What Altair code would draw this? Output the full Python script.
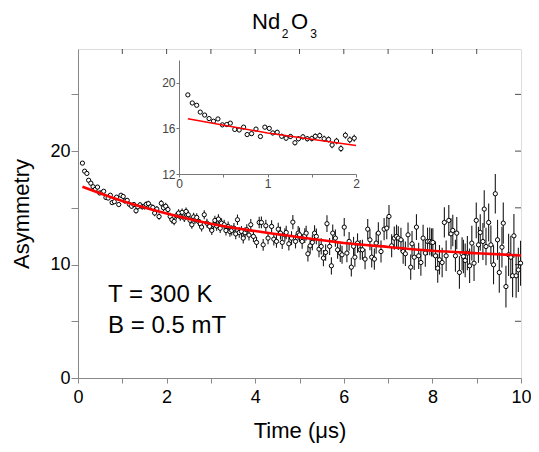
import altair as alt
import pandas as pd

# ---- data ----
T_A = [0.10,0.15,0.20,0.24,0.29,0.34,0.39,0.44,0.49,0.54,0.58,0.63,0.68,0.73,0.77,0.82,0.87,0.92,0.97,1.02,
       1.06,1.11,1.16,1.21,1.26,1.31,1.35,1.40,1.45,1.50,1.54,1.59,1.64,1.69,1.73,1.78,1.83,1.88,1.93,1.98]
A_A = [18.94,18.23,18.03,17.43,17.17,16.86,16.63,16.83,16.31,16.34,16.46,15.91,15.86,16.11,15.46,15.54,15.94,15.29,16.11,16.00,
       15.60,15.66,15.31,15.14,15.29,14.74,15.09,15.26,15.09,15.11,15.31,15.37,15.09,15.03,14.54,14.89,14.23,15.40,15.00,15.14]
E_A = [0.12,0.12,0.13,0.13,0.13,0.14,0.14,0.14,0.15,0.15,0.15,0.16,0.16,0.17,0.17,0.18,0.18,0.19,0.19,0.20,
       0.20,0.21,0.21,0.22,0.22,0.23,0.23,0.24,0.24,0.25,0.25,0.26,0.27,0.27,0.28,0.28,0.29,0.30,0.30,0.31]

T_B = [2.03,2.08,2.12,2.17,2.22,2.27,2.31,2.35,2.40,2.44,2.49,2.53,2.57,2.61,2.64,2.68,2.72,2.76,2.79,2.85,
       2.91,2.97,3.02,3.06,3.09,3.13,3.17,3.21,3.24,3.30,3.34,3.39,3.43,3.47,3.52,3.56,3.60,3.64,3.69,3.73,
       3.77,3.81,3.86,3.90,3.96]
A_B = [14.85,14.24,13.95,13.80,14.30,14.54,14.20,14.60,14.10,14.68,14.39,13.90,13.51,14.20,13.95,14.15,13.80,13.60,13.30,14.39,
       13.65,13.36,13.01,13.50,13.89,13.40,14.01,13.20,13.65,13.51,13.00,13.36,12.90,13.01,13.21,12.70,13.95,12.83,12.92,12.33,
       12.80,13.07,12.60,13.51,12.48]
E_B = [0.32,0.32,0.33,0.33,0.33,0.34,0.34,0.34,0.35,0.35,0.35,0.36,0.36,0.36,0.37,0.37,0.37,0.38,0.38,0.39,
       0.39,0.40,0.40,0.40,0.41,0.41,0.42,0.42,0.43,0.43,0.44,0.44,0.45,0.45,0.45,0.46,0.46,0.47,0.47,0.48,
       0.48,0.49,0.49,0.50,0.50]

T_C = [4.03,4.09,4.14,4.18,4.24,4.29,4.37,4.42,4.48,4.52,4.57,4.61,4.67,4.70,4.76,4.82,4.85,4.91,4.97,5.00,
       5.06,5.12,5.15,5.19,5.24,5.29,5.34,5.38,5.44,5.49,5.54,5.59,5.62,5.68,5.72,5.75,5.81,5.86,5.92,5.96]
A_C = [11.95,13.71,13.71,11.74,13.42,12.33,13.36,12.24,12.04,13.12,12.77,11.95,12.62,12.83,11.83,12.33,13.74,12.04,12.77,12.62,
       12.04,12.54,12.77,10.95,11.65,11.95,12.77,12.48,11.36,11.60,10.57,11.07,13.60,11.60,9.89,12.77,12.33,11.30,11.01,10.86]
E_C = [0.50,0.51,0.52,0.52,0.53,0.54,0.55,0.55,0.56,0.57,0.57,0.58,0.59,0.60,0.60,0.61,0.62,0.62,0.63,0.64,
       0.65,0.65,0.66,0.67,0.68,0.68,0.69,0.70,0.71,0.72,0.72,0.73,0.74,0.75,0.76,0.76,0.77,0.78,0.79,0.80]

T_D = [6.01,6.07,6.12,6.17,6.22,6.25,6.31,6.37,6.42,6.48,6.54,6.59,6.63,6.69,6.73,6.78,6.84,6.91,6.97,7.02,
       7.08,7.14,7.19,7.23,7.29,7.34,7.39,7.45,7.51,7.54,7.59,7.64,7.69,7.74,7.79,7.84,7.89,7.94,7.98]
A_D = [13.30,11.01,12.04,9.77,11.60,10.65,11.89,11.30,11.30,10.48,13.12,12.18,10.65,10.48,11.89,12.77,11.15,13.12,13.21,14.24,
       11.65,12.33,12.48,12.33,12.18,11.15,10.95,12.62,9.77,11.83,10.65,13.30,10.77,10.18,12.33,11.01,12.04,12.04,11.95]
E_D = [0.80,0.81,0.82,0.83,0.84,0.85,0.86,0.87,0.88,0.89,0.90,0.91,0.92,0.93,0.94,0.95,0.96,0.98,0.99,1.00,
       1.01,1.02,1.03,1.04,1.06,1.07,1.08,1.09,1.11,1.12,1.13,1.14,1.16,1.17,1.18,1.20,1.21,1.22,1.24]

T_E = [8.01,8.07,8.12,8.16,8.22,8.27,8.31,8.37,8.42,8.46,8.52,8.55,8.61,8.67,8.70,8.74,8.79,8.84,8.89,8.94,
       8.99,9.04,9.08,9.14,9.17,9.21,9.27,9.32,9.38,9.42,9.47,9.51,9.57,9.60,9.66,9.72,9.77,9.81,9.84,9.89,
       9.94,9.99]
A_E = [11.95,10.77,9.68,10.42,10.18,13.71,10.77,13.89,12.71,13.01,10.77,12.77,9.30,10.95,10.71,10.36,11.01,9.89,11.89,10.12,
       13.89,11.74,12.83,12.03,14.89,11.59,13.71,11.74,9.98,16.24,12.18,9.30,11.53,13.65,8.06,10.86,10.65,9.01,12.53,9.01,
       9.53,10.12]
E_E = [1.25,1.27,1.28,1.30,1.31,1.33,1.34,1.36,1.38,1.39,1.41,1.42,1.44,1.46,1.47,1.49,1.51,1.52,1.54,1.56,
       1.58,1.59,1.61,1.63,1.65,1.66,1.68,1.70,1.72,1.74,1.76,1.78,1.80,1.82,1.84,1.86,1.88,1.90,1.92,1.94,
       1.96,1.98]

FIT_T = [0.1, 1, 2, 3, 4, 5, 6, 7, 8, 9, 10]
FIT_A = [16.85, 15.6, 14.5, 13.6, 12.95, 12.4, 11.9, 11.55, 11.22, 11.0, 10.8]

X_TICKS = [0, 1, 2, 3, 4, 5, 6, 7, 8, 9, 10]
Y_TICKS = [0, 5, 10, 15, 20, 25]
TOP_TICKS = [1, 2, 3, 4, 5, 6, 7, 8, 9]
RIGHT_TICKS = [5, 10, 15, 20, 25]
INSET_X_TICKS = [0, 0.5, 1, 1.5, 2]
INSET_Y_TICKS = [12, 16, 20]

LABELS = ["T = 300 K", "B = 0.5 mT"]
LABEL_T = [0.68, 0.68]
LABEL_A = [6.7, 4.0]

# title pieces "Nd", sub "2", "O", sub "3" (placed above the frame in data units)
TITLE_TXT = ["Nd", "O"]
TITLE_T = [3.93, 4.81]
TITLE_A = [30.8, 30.8]
SUB_TXT = ["2", "3"]
SUB_T = [4.60, 5.24]
SUB_A = [30.0, 30.0]

FONT = "Liberation Sans"

time = T_A + T_B + T_C + T_D + T_E
asym = A_A + A_B + A_C + A_D + A_E
err = E_A + E_B + E_C + E_D + E_E
n = min(len(time), len(asym), len(err))
df = pd.DataFrame({"t": time[:n], "a": asym[:n], "e": err[:n]})
fit = pd.DataFrame({"t": FIT_T, "a": FIT_A})
lab = pd.DataFrame({"t": LABEL_T, "a": LABEL_A, "txt": LABELS})
ttl = pd.DataFrame({"t": TITLE_T, "a": TITLE_A, "txt": TITLE_TXT})
sub = pd.DataFrame({"t": SUB_T, "a": SUB_A, "txt": SUB_TXT})
top_df = pd.DataFrame({"v": TOP_TICKS})
right_df = pd.DataFrame({"v": RIGHT_TICKS})

W, H = 443, 329
PAD_L = 70

xs = alt.Scale(domain=[0, 10], nice=False, zero=False)
ys = alt.Scale(domain=[0, 29], nice=False, zero=False)

x_axis = alt.Axis(values=X_TICKS, labelExpr="datum.value % 2 == 0 ? datum.label : ''",
                  tickSize=5, labelPadding=5, grid=False, titlePadding=14,
                  labelFontSize=18, titleFontSize=22, titleFontWeight="normal",
                  labelFlush=False)
y_axis = alt.Axis(values=Y_TICKS, labelExpr="datum.value % 10 == 0 ? datum.label : ''",
                  tickSize=7, labelPadding=1, grid=False, titlePadding=16,
                  labelFontSize=18, titleFontSize=22, titleFontWeight="normal")

base = alt.Chart(df).transform_calculate(lo="datum.a - datum.e", hi="datum.a + datum.e")

err_main = base.mark_rule(color="#1a1a1a", strokeWidth=1.1).encode(
    x=alt.X("t:Q", scale=xs, axis=x_axis, title="Time (μs)"),
    y=alt.Y("lo:Q", scale=ys, axis=y_axis, title="Asymmetry"),
    y2="hi:Q",
)
pts_main = base.mark_point(shape="circle", filled=False, fill="white", fillOpacity=1,
                           stroke="black", strokeWidth=1, size=18, opacity=1).encode(
    x="t:Q", y="a:Q")
fit_main = alt.Chart(fit).mark_line(color="#ff0000", strokeWidth=2.6, interpolate="monotone").encode(
    x="t:Q", y="a:Q")
txt_main = alt.Chart(lab).mark_text(align="left", baseline="alphabetic", font=FONT,
                                    fontSize=24, color="black").encode(
    x="t:Q", y="a:Q", text="txt:N")
ttl_main = alt.Chart(ttl).mark_text(align="left", baseline="alphabetic", font=FONT,
                                    fontSize=22, color="black").encode(
    x="t:Q", y="a:Q", text="txt:N")
sub_main = alt.Chart(sub).mark_text(align="left", baseline="alphabetic", font=FONT,
                                    fontSize=12, color="black").encode(
    x="t:Q", y="a:Q", text="txt:N")
top_ticks = alt.Chart(top_df).mark_tick(orient="vertical", size=10, thickness=1,
                                        color="black", clip=True).encode(
    x="v:Q", y=alt.datum(29))
right_ticks = alt.Chart(right_df).mark_tick(orient="horizontal", size=12, thickness=1,
                                            color="black", clip=True).encode(
    y="v:Q", x=alt.datum(10))

main = alt.layer(err_main, pts_main, fit_main, txt_main, ttl_main, sub_main, top_ticks, right_ticks)

# ---- inset ----
xi = alt.Scale(domain=[0, 2], range=[101, 278], nice=False, zero=False)
yi = alt.Scale(domain=[12, 22], range=[125, 11], nice=False, zero=False)
xi_axis = alt.Axis(values=INSET_X_TICKS, labelExpr="datum.value % 1 == 0 ? datum.label : ''",
                   format="~g", orient="bottom", offset=-(H - 125), tickSize=3, labelPadding=1,
                   labelFontSize=12, labelColor="#444", domainColor="#777", tickColor="#777",
                   grid=False, labelFlush=False)
yi_axis = alt.Axis(values=INSET_Y_TICKS, format="~g", orient="left", offset=-101, tickSize=3,
                   labelPadding=1, labelFontSize=12, labelColor="#444", domainColor="#777",
                   tickColor="#777", grid=False)

ibase = base.transform_filter("datum.t <= 2")
err_in = ibase.mark_rule(color="#111", strokeWidth=1).encode(
    x=alt.X("t:Q", scale=xi, axis=xi_axis, title=""),
    y=alt.Y("lo:Q", scale=yi, axis=yi_axis, title=""),
    y2="hi:Q",
)
pts_in = ibase.mark_point(shape="circle", filled=False, fill="white", fillOpacity=1,
                          stroke="black", strokeWidth=1, size=18, opacity=1).encode(
    x="t:Q", y="a:Q")
fit_in = alt.Chart(fit).transform_filter("datum.t <= 2").mark_line(
    color="#ff0000", strokeWidth=1.5).encode(x="t:Q", y="a:Q")

inset = alt.layer(err_in, pts_in, fit_in)

chart = alt.layer(main, inset).resolve_scale(x="independent", y="independent").properties(
    width=W, height=H,
    autosize=alt.AutoSizeParams(type="none"),
    padding={"left": PAD_L, "top": 41, "right": 10, "bottom": 66},
).configure_view(stroke="black", strokeWidth=1).configure_axis(
    labelFont=FONT, titleFont=FONT, labelColor="black", titleColor="black",
    domainColor="black", tickColor="black", titleFontWeight="normal",
).configure(background="white")

chart.save("out.html", embed_options={"renderer": "svg", "actions": False})
